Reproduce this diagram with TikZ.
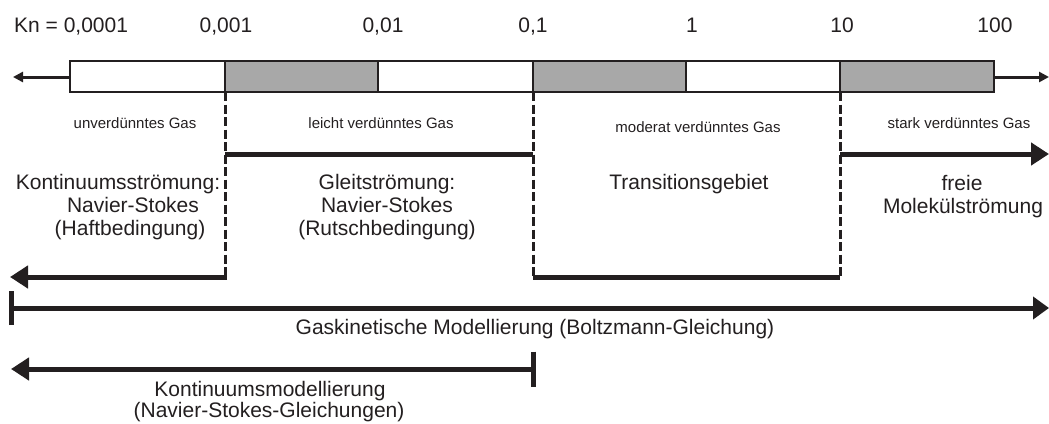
\documentclass[tikz,border=0pt]{standalone}
\usepackage{fontspec}
\setmainfont{Liberation Sans}
\usetikzlibrary{arrows.meta}
\definecolor{barGray}{RGB}{168,168,168}
\definecolor{ink}{RGB}{35,31,32}
\tikzset{
  big/.style={font=\fontsize{21}{23}\selectfont, text=ink, inner sep=0pt, anchor=base},
  small/.style={font=\fontsize{15}{17}\selectfont, text=ink, inner sep=0pt, anchor=base},
  barline/.style={draw=ink, line width=2pt},
  thinarrow/.style={draw=ink, line width=3pt, -{Triangle[length=10pt,width=10pt]}},
  divider/.style={draw=ink, line width=3pt, dash pattern=on 9pt off 3.5pt},
  thick/.style={draw=ink, line width=5pt},
  thickarrow/.style={draw=ink, line width=5pt, -{Triangle[length=18pt,width=22pt]}},
}
\begin{document}
\begin{tikzpicture}[x=1pt,y=-1pt]
\useasboundingbox (0,0) rectangle (1049,423);
% top scale labels
\node[big, anchor=base west] (kn) at (14,32) {Kn = 0,0001};
\node[big] (k3) at (226,32) {0,001};
\node[big] (k2) at (383,32) {0,01};
\node[big] (k1) at (533,32) {0,1};
\node[big] (k0) at (692,32) {1};
\node[big] (kp1) at (842,32) {10};
\node[big] (kp2) at (995,32) {100};
% bar
\fill[barGray] (225,61) rectangle (378,92);
\fill[barGray] (533,61) rectangle (686,92);
\fill[barGray] (840,61) rectangle (994,92);
\draw[barline] (70,61) rectangle (994,92);
\foreach \x in {225,378,533,686,840} \draw[barline] (\x,61) -- (\x,92);
\coordinate (barL) at (70,77);
\coordinate (barR) at (994,77);
\coordinate (farL) at (13,77);
\coordinate (farR) at (1049,77);
\draw[thinarrow] (barL) -- (farL);
\draw[thinarrow] (barR) -- (farR);
% region labels
\node[small] (g1) at (135,128) {unverdünntes Gas};
\node[small] (g2) at (381,128) {leicht verdünntes Gas};
\node[small] (g3) at (698,132) {moderat verdünntes Gas};
\node[small] (g4) at (959,128) {stark verdünntes Gas};
% dashed dividers
\coordinate (dA1) at (225,92); \coordinate (dA2) at (225,277);
\coordinate (dB1) at (533,92); \coordinate (dB2) at (533,277);
\coordinate (dC1) at (840,92); \coordinate (dC2) at (840,277);
\draw[divider] (dA1) -- (dA2);
\draw[divider] (dB1) -- (dB2);
\draw[divider] (dC1) -- (dC2);
% regime lines
\coordinate (gA) at (225,154); \coordinate (gB) at (533,154);
\coordinate (fA) at (840,154); \coordinate (fB) at (1049,154);
\coordinate (tA) at (533,277); \coordinate (tB) at (840,277);
\coordinate (kA) at (227,277); \coordinate (kB) at (10,277);
\draw[thick] (gA) -- (gB);
\draw[thickarrow] (fA) -- (fB);
\draw[thick] (tA) -- (tB);
\draw[thickarrow] (kA) -- (kB);
% regime texts
\node[big] (ks1) at (118,189) {Kontinuumsströmung:};
\node[big] (ks2) at (133,212) {Navier-Stokes};
\node[big] (ks3) at (130,235) {(Haftbedingung)};
\node[big] (gs1) at (387,189) {Gleitströmung:};
\node[big] (gs2) at (387,212) {Navier-Stokes};
\node[big] (gs3) at (387,235) {(Rutschbedingung)};
\node[big] (tr) at (689,189) {Transitionsgebiet};
\node[big] (fm1) at (962,190) {freie};
\node[big] (fm2) at (963,213) {Molekülströmung};
% modelling ranges
\coordinate (gkA) at (9,308); \coordinate (gkB) at (1049,308);
\draw[draw=ink, line width=5pt, {Bar[width=34pt,line width=5pt]}-{Triangle[length=16pt,width=22pt]}] (gkA) -- (gkB);
\node[big] (gk) at (535,334) {Gaskinetische Modellierung (Boltzmann-Gleichung)};
\coordinate (kmA) at (536,369); \coordinate (kmB) at (11,369);
\draw[draw=ink, line width=5pt, {Bar[width=35pt,line width=5pt]}-{Triangle[length=18pt,width=22pt]}] (kmA) -- (kmB);
\node[big] (km1) at (270,396) {Kontinuumsmodellierung};
\node[big] (km2) at (269,417) {(Navier-Stokes-Gleichungen)};
\end{tikzpicture}
\end{document}
